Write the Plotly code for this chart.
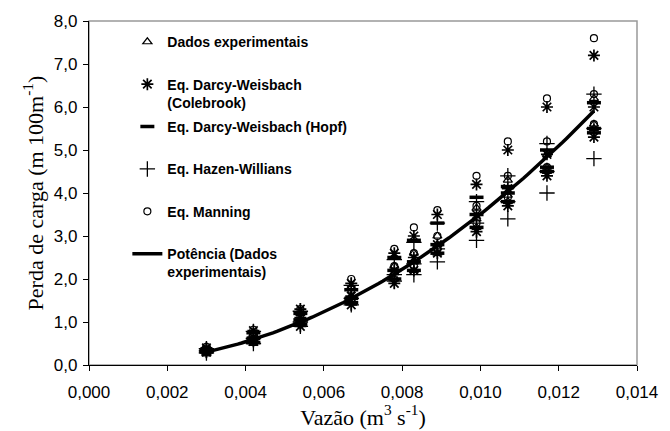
import numpy as np
import plotly.graph_objects as go

# Flow rates (m3/s)
vazao = [0.0030, 0.0042, 0.0054, 0.0067, 0.0078, 0.0083, 0.0089, 0.0099, 0.0107, 0.0117, 0.0129]

# Head loss (m/100m), three pipes per flow rate
exp_1 = [0.30, 0.72, 1.20, 1.80, 2.30, 2.60, 3.00, 3.65, 4.30, 4.90, 6.20]
exp_2 = [0.28, 0.60, 1.05, 1.60, 2.15, 2.40, 2.80, 3.40, 3.95, 4.60, 5.60]
exp_3 = [0.26, 0.50, 0.95, 1.45, 2.00, 2.20, 2.60, 3.20, 3.80, 4.50, 5.50]

cole_1 = [0.40, 0.80, 1.30, 1.90, 2.60, 3.00, 3.50, 4.20, 5.00, 6.00, 7.20]
cole_2 = [0.35, 0.65, 1.10, 1.60, 2.20, 2.50, 2.80, 3.50, 4.10, 4.90, 6.00]
cole_3 = [0.30, 0.55, 0.90, 1.40, 1.90, 2.20, 2.60, 3.10, 3.70, 4.40, 5.30]

hopf_1 = [0.35, 0.75, 1.20, 1.75, 2.50, 2.90, 3.30, 3.90, 4.15, 5.00, 6.10]
hopf_2 = [0.32, 0.62, 1.05, 1.55, 2.20, 2.40, 2.80, 3.50, 4.00, 4.60, 5.50]
hopf_3 = [0.30, 0.52, 0.95, 1.45, 2.00, 2.20, 2.60, 3.20, 3.80, 4.50, 5.40]

hazen_1 = [0.38, 0.78, 1.25, 1.85, 2.45, 2.85, 3.30, 3.80, 4.40, 5.15, 6.30]
hazen_2 = [0.33, 0.62, 1.00, 1.55, 2.10, 2.35, 2.70, 3.30, 3.80, 4.50, 5.50]
hazen_3 = [0.28, 0.50, 0.90, 1.40, 1.95, 2.10, 2.40, 2.90, 3.40, 4.00, 4.80]

mann_1 = [0.42, 0.82, 1.30, 2.00, 2.70, 3.20, 3.60, 4.40, 5.20, 6.20, 7.60]
mann_2 = [0.36, 0.67, 1.10, 1.75, 2.30, 2.60, 3.00, 3.70, 4.40, 5.20, 6.30]
mann_3 = [0.30, 0.55, 0.95, 1.50, 2.00, 2.30, 2.70, 3.30, 3.90, 4.60, 5.60]

x_ticks = [0.000, 0.002, 0.004, 0.006, 0.008, 0.010, 0.012, 0.014]
y_ticks = [0, 1, 2, 3, 4, 5, 6, 7, 8]

def rep(series_list):
    xs, ys = [], []
    for s in series_list:
        xs += vazao
        ys += s
    return xs, ys

fig = go.Figure()

legend_font = dict(family="Liberation Sans, Arial", size=14, color="black")
NB = "\u00a0"

def add_series(name, data, symbol, size, lw, group):
    xs, ys = rep(data)
    fig.add_trace(go.Scatter(
        x=xs, y=ys, mode="markers", name=name, legendgroup=group,
        marker=dict(symbol=symbol, size=size, color="black",
                    line=dict(color="black", width=lw)),
    ))

add_series("<b>Dados experimentais</b><br>" + NB, [exp_1, exp_2, exp_3], "triangle-up-open", 8, 1.2, "a")
add_series("<b>Eq. Darcy-Weisbach</b><br><b>(Colebrook)</b>", [cole_1, cole_2, cole_3], "asterisk-open", 10, 1.7, "b")
add_series("<b>Eq. Darcy-Weisbach (Hopf)</b><br>" + NB, [hopf_1, hopf_2, hopf_3], "line-ew-open", 10, 3.5, "c")
add_series("<b>Eq. Hazen-Willians</b><br>" + NB, [hazen_1, hazen_2, hazen_3], "cross-thin-open", 11, 1.3, "d")
add_series("<b>Eq. Manning</b><br>" + NB, [mann_1, mann_2, mann_3], "circle-open", 7, 1.2, "e")

# Power trend line fitted to experimental data
xe, ye = rep([exp_1, exp_2, exp_3])
b, ln_a = np.polyfit(np.log(xe), np.log(ye), 1)
a = np.exp(ln_a)
xt = np.linspace(min(vazao), max(vazao), 100)
yt = a * xt ** b
fig.add_trace(go.Scatter(
    x=xt, y=yt, mode="lines", name="<b>Potência (Dados</b><br><b>experimentais)</b>",
    legendgroup="f", line=dict(color="black", width=3.5),
))

fig.update_layout(
    width=670, height=431,
    margin=dict(l=89, r=26, t=19, b=66),
    paper_bgcolor="white", plot_bgcolor="white",
    separators=", ",
    font=dict(family="Liberation Sans, Arial", color="black"),
    showlegend=True,
    legend=dict(
        x=0.07, y=0.985, xanchor="left", yanchor="top",
        bgcolor="rgba(255,255,255,0)", font=legend_font,
        traceorder="grouped", tracegroupgap=3, valign="top",
    ),
    shapes=[dict(type="rect", xref="paper", yref="paper", x0=0, y0=0, x1=1, y1=1,
                 line=dict(color="#999999", width=1.5), layer="below")],
)

fig.update_xaxes(
    range=[0, 0.014], tickvals=x_ticks, tickformat=".3f",
    showline=True, linecolor="black", linewidth=1.2, showgrid=False, zeroline=False,
    ticks="outside", ticklen=5, tickcolor="black", ticklabelstandoff=6,
    tickfont=dict(family="Liberation Sans, Arial", size=17, color="black"),
    title=dict(text="Vazão (m<sup>3</sup> s<sup>-1</sup>)",
               font=dict(family="Liberation Serif, Times New Roman", size=22, color="black"),
               standoff=0),
)
fig.update_yaxes(
    range=[0, 8], tickvals=y_ticks, tickformat=".1f",
    showline=True, linecolor="black", linewidth=1.2, showgrid=False, zeroline=False,
    ticks="outside", ticklen=5, tickcolor="black", ticklabelstandoff=2,
    tickfont=dict(family="Liberation Sans, Arial", size=17, color="black"),
    title=dict(text="Perda de carga (m 100m<sup>-1</sup>)",
               font=dict(family="Liberation Serif, Times New Roman", size=22, color="black"),
               standoff=4),
)

fig.write_html("out.html")
